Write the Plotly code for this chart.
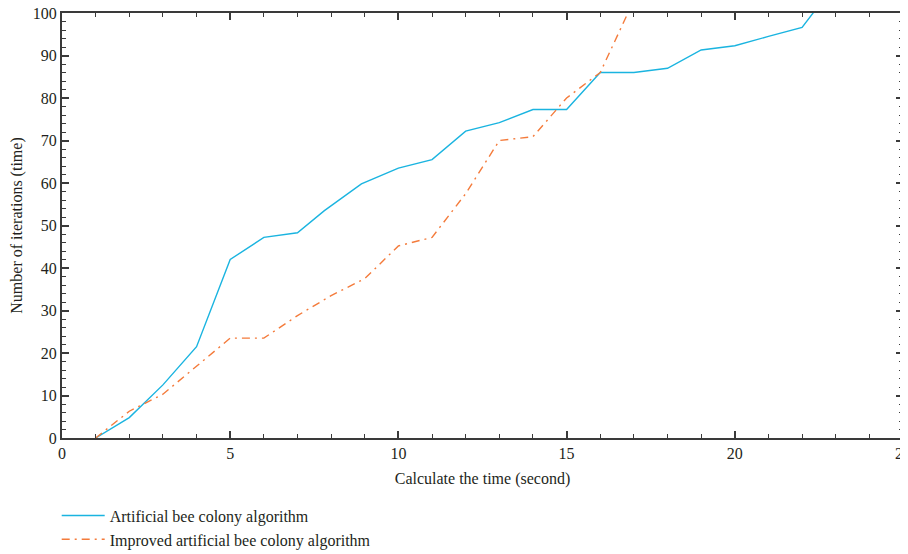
import plotly.graph_objects as go

# Artificial bee colony algorithm
abc_x = [1, 2, 3, 4, 5, 6, 7, 7.8, 8.9, 10, 11, 12, 13, 14, 15, 16, 17, 18, 19, 20, 21, 22, 23]
abc_y = [0, 4.8, 12.5, 21.5, 42.0, 47.2, 48.3, 53.5, 59.8, 63.5, 65.5, 72.2, 74.2, 77.3, 77.3, 86.0, 86.0, 87.0, 91.3, 92.3, 94.5, 96.6, 107.0]

# Improved artificial bee colony algorithm
iabc_x = [1, 2, 3, 4, 5, 6, 7, 8, 9, 10, 11, 12, 13, 14, 15, 16, 17]
iabc_y = [0, 6.3, 10.3, 16.8, 23.5, 23.5, 28.8, 33.5, 37.5, 45.2, 47.2, 57.5, 70.0, 70.9, 80.0, 86.0, 103.0]

series_names = ["Artificial bee colony algorithm", "Improved artificial bee colony algorithm"]
x_title = "Calculate the time (second)"
y_title = "Number of iterations (time)"

FONT = "Liberation Serif"
TXT = "#231f20"
AX = "#3a3a3a"
FS = 16

fig = go.Figure()
fig.add_trace(go.Scatter(x=abc_x, y=abc_y, mode="lines", name=series_names[0],
                         line=dict(color="#1ab4e0", width=1.4)))
fig.add_trace(go.Scatter(x=iabc_x, y=iabc_y, mode="lines", name=series_names[1],
                         line=dict(color="#f47b3b", width=1.4, dash="8px,5px,2px,5px")))

axis_common = dict(
    showgrid=False, zeroline=False, showline=True, linecolor=AX, linewidth=2,
    mirror="allticks", ticks="inside", ticklen=7, tickwidth=1.5, tickcolor=AX,
    tickfont=dict(family=FONT, size=FS, color=TXT), automargin=False,
    ticklabeloverflow="allow",
)

fig.update_xaxes(range=[0, 25], dtick=5, tick0=0,
                 minor=dict(dtick=1, ticks="inside", ticklen=4, tickwidth=1.2, tickcolor=AX),
                 title=dict(text=x_title, font=dict(family=FONT, size=FS, color=TXT), standoff=12),
                 **axis_common)
fig.update_yaxes(range=[0, 100], dtick=10, tick0=0,
                 minor=dict(dtick=2, ticks="inside", ticklen=4, tickwidth=1.2, tickcolor=AX),
                 title=dict(text=y_title, font=dict(family=FONT, size=FS, color=TXT), standoff=14),
                 **axis_common)

fig.update_layout(
    width=908, height=554,
    margin=dict(l=54, r=12.6, t=5.4, b=109.3),
    plot_bgcolor="white", paper_bgcolor="white",
    font=dict(family=FONT, size=FS, color=TXT),
    showlegend=True,
    legend=dict(x=-0.0063, y=-0.1425, xanchor="left", yanchor="top", orientation="v",
                font=dict(family=FONT, size=FS, color=TXT), bgcolor="rgba(0,0,0,0)",
                tracegroupgap=0, itemwidth=43),
)

fig.write_html("out.html")
